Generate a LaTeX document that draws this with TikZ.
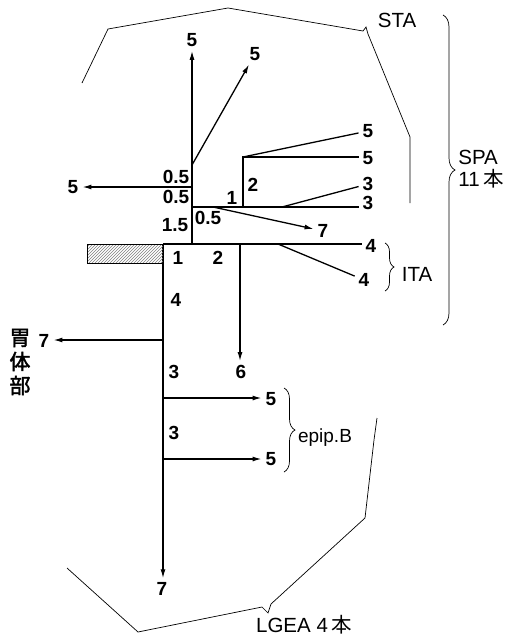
\documentclass[tikz,border=0pt]{standalone}
\usepackage{fontspec}
\setmainfont{Liberation Sans}
\newfontfamily\jpfont{Noto Sans CJK JP}
\newfontfamily\jpbold[FakeBold=2]{Noto Sans CJK JP}
\usetikzlibrary{positioning,arrows.meta,patterns,decorations.pathreplacing}

\begin{document}
\begin{tikzpicture}[
  x=1pt, y=-1pt,
  >={Latex[length=9pt,width=5pt]},
  num/.style={font=\fontsize{19}{19}\selectfont\bfseries, inner sep=2pt},
  tag/.style={font=\fontsize{20.5}{22}\selectfont, inner sep=2pt},
  ves/.style={line width=1.3pt, shorten >=2pt},
  wall/.style={line width=0.7pt},
  brc/.style={line width=0.7pt, decorate, decoration={brace, amplitude=#1}},
  brc/.default=10pt,
]
\useasboundingbox (0,0) rectangle (511,640);

% junctions
\coordinate (up0) at (192,244);
\coordinate (upD) at (192,165);
\coordinate (upW) at (192,187);
\coordinate (upM) at (192,207);
\coordinate (spl) at (243,207);
\coordinate (spt) at (243,157);
\coordinate (sps) at (282,207);
\coordinate (sp7) at (213,207);
\coordinate (h0)  at (163,244);
\coordinate (hD)  at (240,244);
\coordinate (hS)  at (278,244);
\coordinate (lW)  at (163,340);
\coordinate (lE1) at (163,398);
\coordinate (lE2) at (163,459);

% branch ends
\node[num] (nN)  at (192,40)  {5};
\node[num] (nNE) at (255,54)  {5};
\node[num] (nW)  at (73,187)  {5};
\node[num] (nA)  at (368,131) {5};
\node[num] (nB)  at (368,158) {5};
\node[num] (nC)  at (368,184) {3};
\node[num] (nD)  at (368,203) {3};
\node[num] (nE)  at (323,231) {7};
\node[num] (nF)  at (371,246) {4};
\node[num] (nG)  at (364,280) {4};
\node[num] (nH)  at (241,372) {6};
\node[num] (nI)  at (44,341)  {7};
\node[num] (nJ)  at (271,399) {5};
\node[num] (nK)  at (271,459) {5};
\node[num] (nL)  at (162,589) {7};

% segment lengths
\node[num] (s1) at (176,177) {0.5};
\node[num] (s2) at (176,197) {0.5};
\node[num] (s3) at (175,225) {1.5};
\node[num] (s4) at (208,218) {0.5};
\node[num] (s5) at (232,198) {1};
\node[num] (s6) at (253,185) {2};
\node[num] (s7) at (178,258) {1};
\node[num] (s8) at (218,258) {2};
\node[num] (s9) at (176,300) {4};
\node[num] (s10) at (174,372) {3};
\node[num] (s11) at (174,433) {3};

% vessels
\draw[ves,->] (up0) -- (up0 |- nN.south);
\draw[ves,->] (upD) -- (nNE);
\draw[ves,->] (upW) -- (upW -| nW.east);
\draw[ves] (upM) -- (upM -| nD.west);
\draw[ves] (spl) -- (spt) -- (spt -| nB.west);
\draw[ves] (spt) -- (nA);
\draw[ves] (sps) -- (nC);
\draw[ves,->] (sp7) -- (nE);
\draw[ves] (h0) -- (h0 -| nF.west);
\draw[ves,->] (hD) -- (hD |- nH.north);
\draw[ves] (hS) -- (nG);
\draw[ves,->] (h0) -- (h0 |- nL.north);
\draw[ves,->] (lW) -- (lW -| nI.east);
\draw[ves,->] (lE1) -- (lE1 -| nJ.west);
\draw[ves,->] (lE2) -- (lE2 -| nK.west);

\node[draw, line width=0.8pt, pattern=north east lines, pattern color=gray,
      minimum width=76pt, minimum height=19pt, inner sep=0pt, outer sep=0pt,
      anchor=north east] (cuff) at (h0) {};

% stomach wall
\draw[wall] (82,83) -- (108,29) -- (228,8) -- (363,31) -- (366,27) -- (368,34)
  -- (410,137) -- (410,203);
\draw[wall] (67,568) -- (138,632) -- (262,607) -- (266,611) -- (268,613)
  -- (271,604) -- (365,518) -- (374,440) -- (377,418);

% groups
\draw[brc=12pt] (443,15) -- (443,325);
\draw[brc=9pt] (385,243) -- (385,291);
\draw[brc=11pt] (284,388) -- (284,472);

\node[tag] (sta) at (397,20) {STA};
\node[tag, align=left] (spa) at (481,169) {SPA\\11\,{\jpfont 本}};
\node[tag] (ita) at (417,274) {ITA};
\node[tag, font=\fontsize{19}{21}\selectfont] (epi) at (325,438) {epip.B};
\node[tag] (lgea) at (304,625) {LGEA 4\,{\jpfont 本}};
\node[align=center, inner sep=0pt, font=\fontsize{21}{24}\selectfont\jpbold]
  (ibody) at (20,362) {胃\\体\\部};
\end{tikzpicture}
\end{document}
